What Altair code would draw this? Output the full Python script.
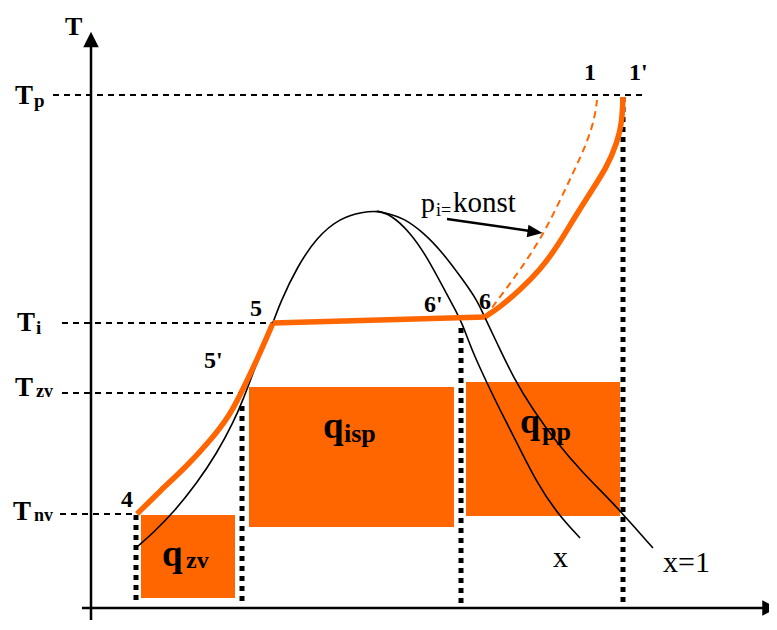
import altair as alt
import pandas as pd

H = 630  # rows of the picture are counted downward; T = H - row (T counted upward)


def up(rows):
    return [H - r for r in rows]


# ---------------- shaded heat areas ----------------
area_name = ["q_zv", "q_isp", "q_pp"]
area_s_from = [141, 249, 466]
area_s_to = [235, 454, 620]
area_row_top = [515, 387, 382]
area_row_bottom = [598, 527, 516]

# ---------------- temperature levels (dashed guides) ----------------
level_name = ["Tp", "Ti", "Tzv", "Tnv"]
level_row = [95, 323, 393, 514]
level_s_from = [53, 62, 62, 60]
level_s_to = [645, 272, 241, 136]

# ---------------- entropy drop lines (dotted) ----------------
drop_s = [136, 242, 461, 623]
drop_row_top = [515, 406, 328, 97]
drop_row_bottom = [602, 602, 603, 603]

# ---------------- saturation dome: left branch + curve "x" ----------------
curve_x_s = [137, 153, 173, 197, 217, 233, 243, 253, 263, 273, 280, 297, 317, 340,
             363, 377, 390, 410, 427, 443, 457, 462, 473, 487, 500, 517, 537, 557, 580]
curve_x_row = [547, 533, 513, 483, 453, 423, 400, 373, 347, 323, 303, 267, 237, 218,
               212, 211, 214, 232, 257, 287, 313, 323, 353, 383, 410, 443, 483, 513, 538]

# ---------------- curve x = 1 ----------------
curve_x1_s = [377, 390, 403, 423, 443, 463, 477, 485, 497, 513, 533, 557, 583, 607, 622, 653]
curve_x1_row = [211, 214, 218, 232, 253, 280, 300, 318, 343, 377, 410, 443, 473, 497, 513, 548]

# ---------------- process 4-5-6-1' (thick orange) ----------------
seg45_s = [137, 160, 187, 210, 230, 241, 257, 273]
seg45_row = [514, 491, 466, 441, 415, 393, 360, 323]
seg56_s = [273, 485]
seg56_row = [323, 317]
seg61_s = [485, 500, 520, 540, 557, 573, 590, 607, 617, 622, 623]
seg61_row = [317, 307, 290, 270, 247, 220, 193, 167, 143, 123, 97]

# ---------------- p_i = konst (dashed orange, 6 -> 1) ----------------
iso_s = [485, 503, 520, 540, 557, 573, 587, 595, 597]
iso_row = [317, 293, 270, 240, 207, 173, 143, 117, 100]

# ---------------- axes ----------------
axis_y_s = 91
axis_y_rows = [620, 44]
axis_x_row = 608
axis_x_s = [82, 766]

# ---------------- annotation arrow ----------------
note_arrow_s = [447, 530]
note_arrow_row = [219, 231]

# ---------------- labels ----------------
bold_text = ["T", "T", "p", "T", "i", "T", "zv", "T", "nv",
             "4", "5'", "5", "6'", "6", "1", "1'",
             "q", "zv", "q", "isp", "q", "pp", "s"]
bold_s = [65, 15, 34, 17, 36, 15, 36, 13, 34,
          121, 204, 250, 424, 479, 584, 629,
          162, 186, 323, 344, 520, 542, 769]
bold_row = [35, 104, 107, 331, 334, 396, 397, 520, 521,
            507, 368, 316, 312, 309, 80, 80,
            566, 568, 438, 442, 433, 440, 624]
bold_size = [26, 27, 19, 27, 19, 27, 18, 27, 18,
             24, 24, 24, 24, 24, 24, 24,
             37, 24, 37, 26, 36, 26, 24]

plain_text = ["p", "i=", "konst", "x", "x=1"]
plain_s = [421, 436, 453, 553, 663]
plain_row = [212, 216, 212, 567, 572]
plain_size = [28, 18, 29, 30, 30]

ORANGE = "#FF6600"
FONT = "Liberation Serif"

xs = alt.Scale(domain=[8, 769], nice=False, zero=False)
ys = alt.Scale(domain=[H - 622, H - 8], nice=False, zero=False)


def X(f):
    return alt.X(f, type="quantitative", scale=xs, axis=None)


def Y(f):
    return alt.Y(f, type="quantitative", scale=ys, axis=None)


# data frames
areas = pd.DataFrame({"name": area_name, "s1": area_s_from, "s2": area_s_to,
                      "T1": up(area_row_top), "T2": up(area_row_bottom)})
levels = pd.DataFrame({"name": level_name, "T": up(level_row),
                       "s1": level_s_from, "s2": level_s_to})
drops = pd.DataFrame({"s": drop_s, "T1": up(drop_row_top), "T2": up(drop_row_bottom)})


def curve_frame(name, s, rows):
    return pd.DataFrame({"curve": name, "i": list(range(len(s))), "s": s, "T": up(rows)})


dome = pd.concat([curve_frame("x", curve_x_s, curve_x_row),
                  curve_frame("x=1", curve_x1_s, curve_x1_row)])
process = pd.concat([curve_frame("4-5", seg45_s, seg45_row),
                     curve_frame("5-6", seg56_s, seg56_row),
                     curve_frame("6-1'", seg61_s, seg61_row)])
iso = curve_frame("p_i", iso_s, iso_row)

axes = pd.DataFrame({"s1": [axis_y_s, axis_x_s[0]], "s2": [axis_y_s, axis_x_s[1]],
                     "T1": [H - axis_y_rows[0], H - axis_x_row],
                     "T2": [H - axis_y_rows[1], H - axis_x_row]})
arrow_line = pd.DataFrame({"s1": [note_arrow_s[0]], "s2": [note_arrow_s[1]],
                           "T1": [H - note_arrow_row[0]], "T2": [H - note_arrow_row[1]]})

bold_df = pd.DataFrame({"t": bold_text, "s": bold_s, "T": up(bold_row), "size": bold_size})
plain_df = pd.DataFrame({"t": plain_text, "s": plain_s, "T": up(plain_row), "size": plain_size})

# layers
rect_layer = alt.Chart(areas).mark_rect(color=ORANGE).encode(
    x=X("s1"), x2="s2", y=Y("T1"), y2="T2")

level_layer = alt.Chart(levels).mark_rule(color="black", strokeWidth=2,
                                          strokeDash=[6, 5]).encode(
    x=X("s1"), x2="s2", y=Y("T"))

drop_layer = alt.Chart(drops).mark_rule(color="black", strokeWidth=5,
                                        strokeDash=[5, 5]).encode(
    x=X("s"), y=Y("T1"), y2="T2")

dome_layer = alt.Chart(dome).mark_line(color="black", strokeWidth=1.6,
                                       interpolate="basis").encode(
    x=X("s"), y=Y("T"), detail="curve:N", order="i:Q")

process_layer = alt.Chart(process).mark_line(color=ORANGE, strokeWidth=5.5,
                                             interpolate="basis",
                                             strokeJoin="round").encode(
    x=X("s"), y=Y("T"), detail="curve:N", order="i:Q")

iso_layer = alt.Chart(iso).mark_line(color=ORANGE, strokeWidth=2, strokeDash=[7, 5],
                                     interpolate="basis").encode(
    x=X("s"), y=Y("T"), order="i:Q")

axes_layer = alt.Chart(axes).mark_rule(color="black", strokeWidth=2.5).encode(
    x=X("s1"), x2="s2", y=Y("T1"), y2="T2")

heads = pd.DataFrame({"s": [axis_y_s], "T": [H - 39.5]})
head_up = alt.Chart(heads).mark_point(shape="M0,-1L1,1L-1,1Z", filled=True, color="black",
                                      size=240, opacity=1, strokeWidth=0).encode(
    x=X("s"), y=Y("T"))
heads_r = pd.DataFrame({"s": [770], "T": [H - axis_x_row]})
head_right = alt.Chart(heads_r).mark_point(shape="M1,0L-1,-1L-1,1Z", filled=True,
                                           color="black", size=240, opacity=1,
                                           strokeWidth=0).encode(
    x=X("s"), y=Y("T"))

arrow_layer = alt.Chart(arrow_line).mark_rule(color="black", strokeWidth=2.5).encode(
    x=X("s1"), x2="s2", y=Y("T1"), y2="T2")
heads_a = pd.DataFrame({"s": [535], "T": [H - 232]})
arrow_head = alt.Chart(heads_a).mark_point(shape="M1,0L-1,-0.85L-1,0.85Z", filled=True,
                                           color="black", size=225, angle=8, opacity=1,
                                           strokeWidth=0).encode(
    x=X("s"), y=Y("T"))

bold_layer = alt.Chart(bold_df).mark_text(align="left", baseline="alphabetic", font=FONT,
                                          fontWeight="bold", color="black").encode(
    x=X("s"), y=Y("T"), text="t:N", size=alt.Size("size:Q", scale=None))
plain_layer = alt.Chart(plain_df).mark_text(align="left", baseline="alphabetic", font=FONT,
                                            color="black").encode(
    x=X("s"), y=Y("T"), text="t:N", size=alt.Size("size:Q", scale=None))

chart = alt.layer(
    rect_layer, level_layer, drop_layer, dome_layer, process_layer, iso_layer,
    axes_layer, head_up, head_right, arrow_layer, arrow_head, bold_layer, plain_layer
).properties(
    width=761, height=614, padding=0, autosize="none", background="white"
).configure_view(stroke=None)

chart.save("out.html", embed_options={"renderer": "svg", "actions": False})
